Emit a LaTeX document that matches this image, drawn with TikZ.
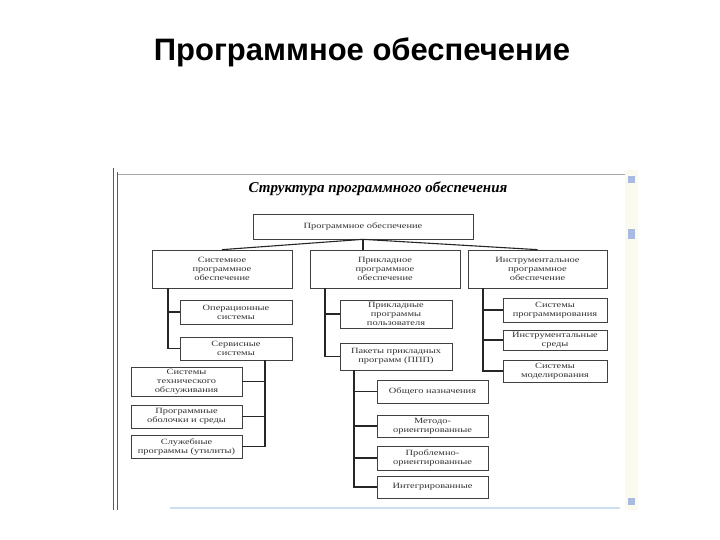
\documentclass[tikz,border=0pt]{standalone}
\usepackage{fontspec}
\setmainfont{Liberation Serif}
\newfontfamily\headfont{Liberation Sans}
\newfontfamily\boxfont[FakeStretch=1.3]{Liberation Serif}
\usetikzlibrary{positioning}
\definecolor{frameline}{RGB}{90,90,90}
\definecolor{scrollbg}{RGB}{250,250,238}
\definecolor{scrollbtn}{RGB}{170,185,225}
\definecolor{baseblue}{RGB}{205,222,240}

\begin{document}
\begin{tikzpicture}[x=1pt, y=-1pt,
  box/.style={draw=black!75, line width=0.7pt, fill=white, align=center, inner sep=1pt,
    font=\boxfont\fontsize{8}{9}\selectfont, text=black!80},
  link/.style={draw=black!85, line width=1.1pt}]
  \useasboundingbox (0,0) rectangle (720,540);

  % slide heading
  \node[font=\headfont\bfseries\fontsize{31}{34}\selectfont] (head) at (362,52) {Программное обеспечение};

  % window frame of the screenshot
  \fill[scrollbg] (625,170) rectangle (638,510);
  \fill[scrollbtn] (628,176) rectangle (635,183);
  \fill[scrollbtn] (628,229) rectangle (635,239);
  \fill[scrollbtn] (628,498) rectangle (635,505);
  \draw[gray!70, line width=0.8pt] (118,174) -- (625,174);
  \draw[frameline, line width=0.9pt] (113.5,168) -- (113.5,510);
  \draw[frameline, line width=0.9pt] (117,172) -- (117,510);
  \draw[baseblue, line width=1.5pt] (170,508) -- (620,508);

  \node[font=\bfseries\itshape\fontsize{15}{18}\selectfont] (sub) at (378,189) {Структура программного обеспечения};

  % top levels
  \node[box, minimum width=220pt, minimum height=25pt] (po) at (363,226.5) {Программное обеспечение};
  \node[box, minimum width=140pt, minimum height=38pt] (sys) at (222,269) {Системное\\программное\\обеспечение};
  \node[box, minimum width=150pt, minimum height=38pt] (app) at (385,269) {Прикладное\\программное\\обеспечение};
  \node[box, minimum width=139pt, minimum height=38pt] (tool) at (537.5,269) {Инструментальное\\программное\\обеспечение};

  % system software
  \node[box, minimum width=112pt, minimum height=24pt] (os) at (236,312) {Операционные\\системы};
  \node[box, minimum width=112pt, minimum height=23pt] (serv) at (236,348.5) {Сервисные\\системы};
  \node[box, minimum width=111pt, minimum height=29pt] (tech) at (186.5,381.5) {Системы\\технического\\обслуживания};
  \node[box, minimum width=111pt, minimum height=23pt] (shell) at (186.5,416.5) {Программные\\оболочки и среды};
  \node[box, minimum width=111pt, minimum height=23pt] (util) at (186.5,446.5) {Служебные\\программы (утилиты)};

  % applied software
  \node[box, minimum width=112pt, minimum height=28pt] (user) at (396,314) {Прикладные\\программы\\пользователя};
  \node[box, minimum width=112pt, minimum height=27pt] (ppp) at (396,356.5) {Пакеты прикладных\\программ (ППП)};
  \node[box, minimum width=111pt, minimum height=23pt] (gen) at (432.5,391.5) {Общего назначения};
  \node[box, minimum width=111pt, minimum height=22pt] (meth) at (432.5,426) {Методо-\\ориентированные};
  \node[box, minimum width=111pt, minimum height=24pt] (prob) at (432.5,458) {Проблемно-\\ориентированные};
  \node[box, minimum width=111pt, minimum height=22pt] (integ) at (432.5,487) {Интегрированные};

  % tool software
  \node[box, minimum width=104pt, minimum height=24pt] (prog) at (555,310) {Системы\\программирования};
  \node[box, minimum width=104pt, minimum height=20pt] (env) at (555,340) {Инструментальные\\среды};
  \node[box, minimum width=104pt, minimum height=22pt] (model) at (555,371) {Системы\\моделирования};

  % connectors
  \draw[link] (po.south) -- (sys.north);
  \draw[link] (po.south) -- (po.south |- app.north);
  \draw[link] (po.south) -- (tool.north);

  \draw[link] ([xshift=-54pt]sys.south) |- (serv.west);
  \draw[link] ([xshift=-54pt]sys.south) |- (os.west);

  \draw[link] ([xshift=29pt]serv.south) |- (util.east);
  \draw[link] ([xshift=29pt]serv.south) |- (shell.east);
  \draw[link] ([xshift=29pt]serv.south) |- (tech.east);

  \draw[link] ([xshift=-60pt]app.south) |- (ppp.west);
  \draw[link] ([xshift=-60pt]app.south) |- (user.west);

  \draw[link] ([xshift=-42pt]ppp.south) |- (integ.west);
  \draw[link] ([xshift=-42pt]ppp.south) |- (prob.west);
  \draw[link] ([xshift=-42pt]ppp.south) |- (meth.west);
  \draw[link] ([xshift=-42pt]ppp.south) |- (gen.west);

  \draw[link] ([xshift=-54.5pt]tool.south) |- (model.west);
  \draw[link] ([xshift=-54.5pt]tool.south) |- (env.west);
  \draw[link] ([xshift=-54.5pt]tool.south) |- (prog.west);
\end{tikzpicture}
\end{document}
